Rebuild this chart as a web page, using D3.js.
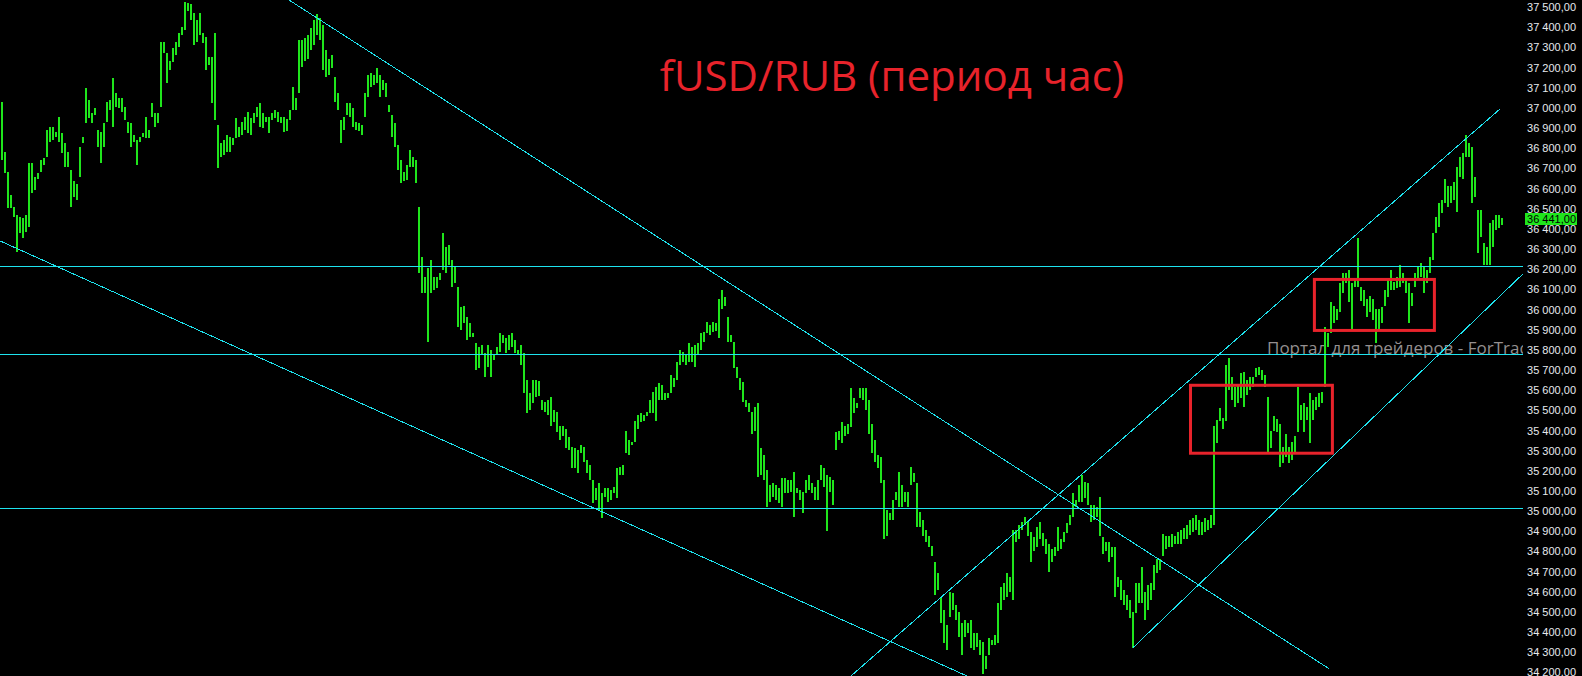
<!DOCTYPE html>
<html>
<head>
<meta charset="utf-8">
<style>
  html, body { margin: 0; padding: 0; background: #000; }
  svg { display: block; }
</style>
</head>
<body>
<svg width="1582" height="676"></svg>
<script src="https://cdn.jsdelivr.net/npm/d3@7/dist/d3.min.js"></script>
<script>

// hourly bars, high and low of each hour, oldest first
var highs = [
  37015,36765,36665,36555,36495,36455,36445,36440,36455,36710,
  36710,36640,36660,36725,36735,36875,36890,36890,36865,36940,
  36860,36810,36765,36675,36620,36605,36790,36840,37085,37025,
  36960,36985,36875,36865,36910,37015,37025,37135,37060,37035,
  37035,36990,36915,36910,36850,36825,36840,36860,36940,36875,
  37010,36960,36960,
  37310,37310,37255,37215,37280,37310,37355,37385,37510,37505,
  37500,37455,37420,37455,37355,37335,37235,37235,37355,36900,
  36810,36825,36850,36840,36835,36935,36890,36915,36940,36965,
  36935,36960,36990,37010,36960,36940,36940,36960,36975,36965,
  36940,36940,36930,36975,37090,37035,37320,37320,37330,37345,
  37380,37420,37450,37430,37395,37270,37225,37245,37140,37060,
  36925,36940,37010,37010,36985,36915,36910,
  36900,37060,37150,37160,37150,37185,37150,37125,37110,37000,
  36950,36910,36800,36725,36665,36700,36775,36740,36725,36495,
  36245,36145,36190,36230,36145,36145,36165,36365,36295,36305,
  36230,36195,36095,35995,36000,35950,35920,35870,35820,35800,
  35810,35770,35810,35785,35760,35800,35870,35860,35845,35860,
  35870,35835,35785,35810,35770,35635,35570,35635,35635,35630,
  35535,35525,35535,35550,35485,35475,35405,35405,35390,35350,
  35305,35300,35290,35315,35305,35240,35215,35140,35100,35125,
  35075,35100,35100,35090,35105,35200,35205,35215,35380,35340,
  35330,35430,35460,35470,35460,35475,35535,35575,35600,35620,
  35610,35570,35570,35660,35645,35725,35785,35775,35760,35820,
  35800,35810,35820,35870,35875,35925,35910,35925,35920,36035,
  36080,36045,35950,35860,35825,35700,35645,35625,35535,35520,
  35475,35500,35520,35300,35265,35190,35115,35125,35115,35100,
  35150,35150,35140,35140,35180,35100,35090,35080,35140,35165,
  35125,35105,35140,35215,35200,35165,35155,35140,35375,35380,
  35425,35405,35415,35595,35545,35520,35595,35595,35595,35535,
  35415,35340,35265,35255,35140,34990,34975,35040,35080,35180,
  35115,35080,35080,35205,35175,35125,34980,34940,34890,34860,
  34810,34730,34680,34560,34495,34420,34585,34580,34520,34485,
  34430,34445,34430,34445,34380,34380,34345,34335,34265,34355,
  34345,34370,34530,34610,34630,34680,34660,34890,34890,34915,
  34930,34955,34930,34880,34855,34905,34930,34875,34845,34820,
  34795,34805,34905,34845,34880,34925,34965,35075,35040,35115,
  35165,35130,35125,35015,35015,35005,35055,34855,34830,34830,
  34805,34805,34660,34645,34595,34570,34545,34485,34630,34630,
  34710,34585,34620,34630,34720,34745,34745,34870,34860,34860,
  34870,34860,34880,34890,34900,34915,34940,34950,34965,34940,
  34930,34950,34940,34965,35405,35435,35495,35445,35710,35745,
  35650,35600,35610,35670,35675,35635,35650,35650,35695,35700,
  35685,35660,35550,35380,35455,35440,35415,35305,35365,35305,
  35330,35355,35600,35510,35520,35500,35570,35535,35550,35570,
  35575,35900,35870,36020,36000,35985,36115,36165,36165,36180,
  36115,36130,36340,36095,36080,36035,36050,36035,35985,35985,
  35995,36080,36130,36180,36120,36145,36205,36165,36130,36115,
  36065,36165,36195,36215,36195,36180,36245,36365,36445,36515,
  36530,36630,36595,36595,36615,36690,36740,36760,36850,36810,
  36790,36640,36480,36480,36315,36295,36415,36430,36455,36455,
  36440
];
var lows = [
  36725,36660,36490,36490,36445,36270,36365,36340,36370,36395,
  36565,36580,36630,36665,36700,36740,36815,36825,36840,36815,
  36760,36690,36690,36495,36545,36530,36640,36810,36910,36935,
  36910,36950,36790,36710,36790,36915,36975,36890,36990,36985,
  36965,36925,36860,36790,36815,36700,36815,36840,36835,36835,
  36940,36890,36910,
  36990,37255,37110,37175,37210,37245,37285,37345,37370,37465,
  37420,37295,37310,37345,37305,37175,37200,37010,36925,36685,
  36740,36750,36765,36765,36800,36835,36840,36850,36875,36860,
  36850,36910,36940,36890,36885,36915,36860,36925,36935,36915,
  36910,36865,36870,36925,36975,36975,37060,37190,37215,37225,
  37270,37295,37345,37320,37175,37140,37150,37185,37015,36975,
  36810,36875,36950,36940,36890,36875,36870,
  36850,36940,37040,37090,37100,37110,37040,37075,37040,36965,
  36840,36790,36675,36610,36620,36625,36690,36690,36610,36165,
  36065,36065,35825,36065,36080,36090,36130,36180,36165,36205,
  36095,36115,35900,35885,35920,35835,35850,35850,35685,35695,
  35760,35650,35700,35650,35735,35760,35775,35820,35770,35785,
  35800,35770,35760,35710,35570,35470,35485,35520,35550,35555,
  35485,35475,35460,35405,35425,35375,35340,35355,35300,35290,
  35200,35200,35175,35275,35230,35175,35140,35025,35040,34990,
  34950,35055,35030,35040,35075,35050,35165,35165,35275,35265,
  35315,35330,35390,35425,35430,35455,35470,35470,35430,35535,
  35535,35535,35545,35570,35600,35635,35710,35725,35710,35725,
  35725,35700,35760,35785,35825,35870,35860,35875,35880,35845,
  35985,36000,35825,35825,35695,35645,35585,35525,35500,35475,
  35365,35380,35155,35165,35140,35005,35030,35055,35040,35025,
  35005,35075,35075,35080,34955,35075,35040,34975,35075,35090,
  35075,35040,35040,35140,35105,34885,35080,35015,35290,35340,
  35325,35355,35365,35400,35470,35495,35545,35535,35485,35365,
  35275,35230,35200,35125,34845,34860,34940,34940,35040,35005,
  35005,35030,35005,35115,35130,34905,34905,34860,34830,34805,
  34760,34570,34595,34430,34330,34295,34460,34495,34445,34360,
  34270,34360,34380,34305,34295,34310,34270,34175,34200,34270,
  34320,34320,34330,34495,34545,34560,34585,34545,34830,34845,
  34890,34915,34860,34730,34785,34805,34845,34810,34770,34685,
  34730,34760,34785,34795,34830,34875,34915,34955,35005,35030,
  35030,35050,35015,34930,34940,34955,34860,34770,34785,34730,
  34755,34560,34610,34545,34520,34495,34455,34305,34480,34530,
  34530,34445,34495,34545,34595,34680,34695,34760,34795,34805,
  34805,34820,34820,34820,34845,34845,34865,34880,34890,34865,
  34865,34880,34890,34900,34915,35325,35430,35390,35430,35585,
  35535,35500,35520,35545,35500,35560,35585,35600,35650,35660,
  35635,35600,35275,35300,35380,35375,35205,35225,35255,35225,
  35240,35275,35375,35435,35375,35435,35325,35435,35485,35500,
  35520,35600,35800,35870,35920,35935,35970,36065,36115,36020,
  35885,36095,36095,36025,36000,35950,35970,35935,35820,35885,
  35920,36000,36045,36080,36080,36090,36095,36115,36065,35920,
  36000,36095,36130,36145,36065,36115,36165,36230,36365,36395,
  36465,36515,36495,36515,36530,36470,36640,36630,36740,36740,
  36515,36545,36265,36345,36205,36205,36205,36295,36380,36390,
  36405
];
var lastPrice = 36441;

// horizontal levels and trend lines: [bar index, price]
var levels = [36200, 35765, 35000];
var trendLines = [
  [[-0.3, 36325], [322, 34167]],
  [[96, 37520], [442.7, 34203]],
  [[283.3, 34167], [499.7, 36980]],
  [[377.3, 34307], [507.3, 36161]]
];
// consolidation boxes: bar index from/to, price top/bottom
var boxes = [
  {from: 396.5, to: 443.8, top: 35609, bottom: 35272},
  {from: 437.8, to: 477.8, top: 36134, bottom: 35881}
];
var priceTicks = d3.range(34200, 37501, 100);
var title = "fUSD/RUB (период час)";
var watermark = "Портал для трейдеров - ForTrader.org";

var svg = d3.select("svg"),
    W = +svg.attr("width"),
    H = +svg.attr("height"),
    plotRight = 1523,
    barStep = 3;

var green = "#1fe51c",
    cyan = "#1ee3ee",
    red = "#e8232b";

svg.append("rect").attr("width", W).attr("height", H).attr("fill", "#000");

var x = d3.scaleLinear()
    .domain([0, highs.length - 1])
    .range([1, 1 + barStep * (highs.length - 1)]);

var y = d3.scaleLinear()
    .domain([34167, 37520])
    .range([H, 0]);

svg.append("clipPath").attr("id", "plot")
  .append("rect").attr("width", plotRight).attr("height", H);

var g = svg.append("g").attr("clip-path", "url(#plot)");

g.append("text")
    .attr("x", 1267)
    .attr("y", 354)
    .attr("font-family", "Open Sans, sans-serif")
    .attr("font-size", 17)
    .attr("fill", "#948f8f")
    .text(watermark);

g.append("g")
  .selectAll("rect")
  .data(highs)
  .enter().append("rect")
    .attr("x", function(d, i) { return Math.round(x(i)) - 0.5; })
    .attr("y", function(d) { return y(d); })
    .attr("width", 2)
    .attr("height", function(d, i) { return Math.max(1, y(lows[i]) - y(d)); })
    .attr("fill", green)
    .attr("shape-rendering", "crispEdges");

g.append("g")
  .selectAll("line")
  .data(levels)
  .enter().append("line")
    .attr("x1", 0)
    .attr("x2", plotRight)
    .attr("y1", function(d) { return Math.round(y(d)) + 0.5; })
    .attr("y2", function(d) { return Math.round(y(d)) + 0.5; })
    .attr("stroke", cyan)
    .attr("stroke-width", 1)
    .attr("shape-rendering", "crispEdges");

g.append("g")
  .selectAll("line")
  .data(trendLines)
  .enter().append("line")
    .attr("x1", function(d) { return x(d[0][0]); })
    .attr("y1", function(d) { return y(d[0][1]); })
    .attr("x2", function(d) { return x(d[1][0]); })
    .attr("y2", function(d) { return y(d[1][1]); })
    .attr("stroke", cyan)
    .attr("stroke-width", 1)
    .attr("shape-rendering", "crispEdges");

g.append("g")
  .selectAll("rect")
  .data(boxes)
  .enter().append("rect")
    .attr("x", function(d) { return x(d.from); })
    .attr("y", function(d) { return y(d.top); })
    .attr("width", function(d) { return x(d.to) - x(d.from); })
    .attr("height", function(d) { return y(d.bottom) - y(d.top); })
    .attr("fill", "none")
    .attr("stroke", red)
    .attr("stroke-width", 3);

svg.append("text")
    .attr("x", 892)
    .attr("y", 91)
    .attr("text-anchor", "middle")
    .attr("font-family", "Open Sans, sans-serif")
    .attr("font-size", 42)
    .attr("fill", red)
    .text(title);

// price scale on the right
var ru = d3.formatLocale({decimal: ",", thousands: " ", grouping: [3], currency: ["", ""]});
var fmt = ru.format(",.2f");

var axis = svg.append("g")
    .attr("transform", "translate(1576,0)")
    .call(d3.axisRight(y).tickValues(priceTicks).tickSize(0).tickPadding(0).tickFormat(fmt));

axis.select(".domain").remove();
axis.selectAll("text")
    .attr("x", 0)
    .attr("dy", "0.6em")
    .attr("text-anchor", "end")
    .attr("font-family", "Liberation Sans, Arial, sans-serif")
    .attr("font-size", 11)
    .attr("fill", "#e6e9ee");

var py = Math.round(y(lastPrice));
svg.append("rect")
    .attr("x", 1525)
    .attr("y", py - 5)
    .attr("width", 52)
    .attr("height", 12)
    .attr("fill", green);

svg.append("text")
    .attr("x", 1576)
    .attr("y", py - 5)
    .attr("dy", "0.88em")
    .attr("text-anchor", "end")
    .attr("font-family", "Liberation Sans, Arial, sans-serif")
    .attr("font-size", 11)
    .attr("fill", "#000")
    .text(fmt(lastPrice));

</script>
</body>
</html>
